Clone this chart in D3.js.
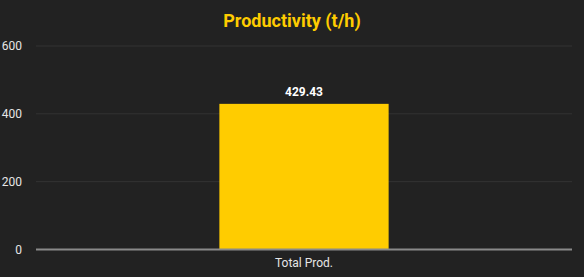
<!DOCTYPE html>
<html>
<head>
<meta charset="utf-8">
<script src="https://cdn.jsdelivr.net/npm/d3@7"></script>
<style>
  html, body { margin: 0; padding: 0; background: #222222; }
  svg { display: block; font-family: Roboto, "Noto Sans", sans-serif; }
</style>
</head>
<body>
<div id="chart"></div>
<script>
"use strict";

const categories = ["Total Prod."];
const values = [429.43];
const yTicks = [0, 200, 400, 600];
const title = "Productivity (t/h)";

const width = 584;
const height = 277;
const margin = { top: 46, right: 12, bottom: 27.5, left: 36 };

const svg = d3.select("#chart")
  .append("svg")
  .attr("width", width)
  .attr("height", height)
;

svg.append("rect")
  .attr("width", width)
  .attr("height", height)
  .attr("fill", "#222222")
;

const xScale = d3.scaleBand()
  .domain(categories)
  .range([margin.left, width - margin.right])
  .padding(0.52)
;

const yScale = d3.scaleLinear()
  .domain([0, 600])
  .range([height - margin.bottom, margin.top])
;

// gridlines
svg.append("g")
  .selectAll("line")
  .data(yTicks.filter(d => d !== 0))
  .enter()
  .append("line")
  .attr("x1", margin.left)
  .attr("x2", width - margin.right)
  .attr("y1", d => yScale(d))
  .attr("y2", d => yScale(d))
  .attr("stroke", "#333333")
  .attr("stroke-width", 1)
;

// y axis labels
const yAxis = d3.axisLeft(yScale).tickValues(yTicks).tickSize(0).tickPadding(14);
const yg = svg.append("g")
  .attr("transform", `translate(${margin.left}, 0)`)
  .call(yAxis)
;
yg.select(".domain").remove();
yg.selectAll("text")
  .attr("fill", "#e6e6e6")
  .style("font-size", "12px")
  .style("font-family", "Roboto, sans-serif")
;

// bars
svg.append("g")
  .selectAll("rect")
  .data(values)
  .enter()
  .append("rect")
  .attr("x", (d, i) => xScale(categories[i]))
  .attr("y", d => yScale(d))
  .attr("width", xScale.bandwidth())
  .attr("height", d => yScale(0) - yScale(d))
  .attr("fill", "#FFCC00")
;

// value labels
svg.append("g")
  .selectAll("text")
  .data(values)
  .enter()
  .append("text")
  .attr("x", (d, i) => xScale(categories[i]) + xScale.bandwidth() / 2)
  .attr("y", d => yScale(d) - 8)
  .attr("text-anchor", "middle")
  .attr("fill", "#ffffff")
  .style("font-size", "12px")
  .style("font-weight", "bold")
  .text(d => d.toFixed(2))
;

// x axis
const xAxis = d3.axisBottom(xScale).tickSize(0).tickPadding(9);
const xg = svg.append("g")
  .attr("transform", `translate(0, ${yScale(0)})`)
  .call(xAxis)
;
xg.select(".domain")
  .attr("stroke", "#8a8a8a")
  .attr("stroke-width", 2)
  .attr("d", `M${margin.left},0H${width - margin.right}`)
;
xg.selectAll("text")
  .attr("fill", "#e6e6e6")
  .style("font-size", "12px")
  .style("font-family", "Roboto, sans-serif")
;

// title
svg.append("text")
  .attr("x", width / 2)
  .attr("y", 27)
  .attr("text-anchor", "middle")
  .attr("fill", "#FFCC00")
  .style("font-size", "18px")
  .style("font-weight", "bold")
  .text(title)
;
</script>
</body>
</html>
